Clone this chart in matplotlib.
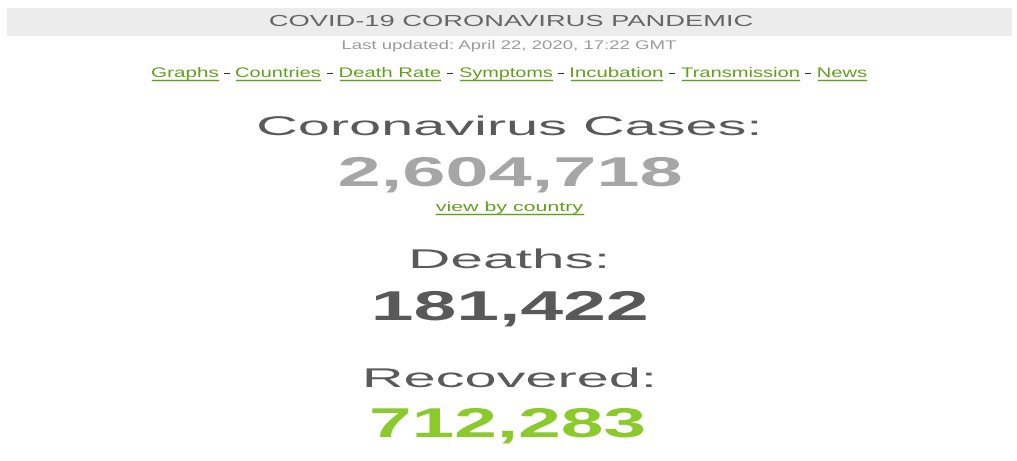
import matplotlib
matplotlib.use("Agg")
import matplotlib.pyplot as plt
from matplotlib.patheffects import AbstractPathEffect
from matplotlib.transforms import Affine2D
from matplotlib.patches import Rectangle

# ---- data ----
page_title = "COVID-19 CORONAVIRUS PANDEMIC"
updated = "Last updated: April 22, 2020, 17:22 GMT"
nav_links = ["Graphs", "Countries", "Death Rate", "Symptoms", "Incubation", "Transmission", "News"]
stat_labels = ["Coronavirus Cases:", "Deaths:", "Recovered:"]
stat_values = [2604718, 181422, 712283]
view_link = "view by country"

# ---- layout (image pixel coordinates) ----
W, H = 1017, 461
nav_spans = [(152, 218), (236, 320), (340, 440), (460, 552), (571, 662), (682, 799), (818, 866)]
label_spans = [(260, 758), (413, 605), (367, 652)]
label_base = [135, 268, 387]
value_spans = [(340, 680), (375, 645), (372, 643)]
value_base = [186, 320, 437]
value_colors = ["#a6a6a6", "#595959", "#8aca2b"]
link_color = "#62a01c"


class FitWidth(AbstractPathEffect):
    """Horizontally stretch the glyph outlines so the ink spans a given width."""
    def __init__(self, width):
        super().__init__()
        self.width = width

    def draw_path(self, renderer, gc, tpath, affine, rgbFace=None):
        ext = tpath.get_extents(affine)
        cx = 0.5 * (ext.x0 + ext.x1)
        sx = self.width / max(ext.width, 1e-6)
        new = affine + Affine2D().translate(-cx, 0).scale(sx, 1.0).translate(cx, 0)
        renderer.draw_path(gc, tpath, new, rgbFace)


fig = plt.figure(figsize=(W / 100, H / 100), dpi=100)
ax = fig.add_axes([0, 0, 1, 1])
ax.set_xlim(0, W)
ax.set_ylim(H, 0)
ax.axis("off")

FONT = "Liberation Sans"


def put(txt, span, base, size, color, weight="normal"):
    x0, x1 = span
    ax.text((x0 + x1) / 2, base, txt, ha="center", va="baseline",
            fontsize=size, color=color, fontweight=weight, family=FONT,
            path_effects=[FitWidth(x1 - x0)])


# header band
ax.add_patch(Rectangle((7, 8), 1005, 28, facecolor="#ececec", edgecolor="none"))
put(page_title, (270, 752), 26, 11.5, "#666666")
put(updated, (343, 676), 49, 9, "#9a9a9a")

# navigation links
nav_base = 77
for i, (name, sp) in enumerate(zip(nav_links, nav_spans)):
    put(name, sp, nav_base, 10, link_color)
    ax.plot([sp[0], sp[1]], [nav_base + 3, nav_base + 3], color=link_color, lw=1)
    if i < len(nav_links) - 1:
        mid = (sp[1] + nav_spans[i + 1][0]) / 2
        put("-", (mid - 3, mid + 3), nav_base, 10, "#333333")

# stats
for i, (lab, val) in enumerate(zip(stat_labels, stat_values)):
    put(lab, label_spans[i], label_base[i], 19.5, "#5a5a5a")
    put(f"{val:,}", value_spans[i], value_base[i], 30, value_colors[i], weight="bold")

# view by country link
put(view_link, (436, 583), 211, 9.5, link_color)
ax.plot([436, 583], [214, 214], color=link_color, lw=1)

fig.savefig("out.png", dpi=100)
